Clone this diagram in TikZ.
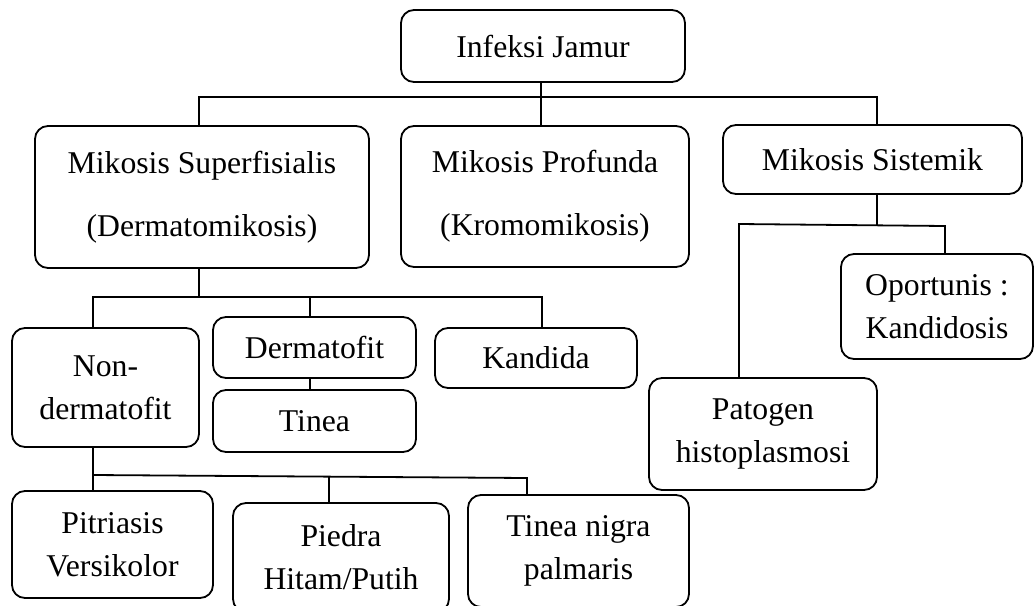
\documentclass[tikz,border=0pt]{standalone}
\usepackage{fontspec}
\setmainfont{Liberation Serif}
\begin{document}
\begin{tikzpicture}[x=1pt,y=-1pt,
  box/.style={draw, line width=1.8pt, rounded corners=13pt, align=center, inner sep=0pt,
    font=\fontsize{31.7}{43}\selectfont},
  wide/.style={font=\fontsize{31.7}{63}\selectfont},
  conn/.style={line width=1.8pt}]
\clip (0,0) rectangle (1035,605);
% boxes
\node[box, minimum width=284pt, minimum height=72pt] (inf) at (543,46) {Infeksi Jamur};
\node[box, wide, minimum width=334pt, minimum height=142pt] (sup) at (202,197) {Mikosis Superfisialis\\(Dermatomikosis)};
\node[box, wide, minimum width=288pt, minimum height=141pt] (pro) at (545,196.5) {Mikosis Profunda\\(Kromomikosis)};
\node[box, minimum width=299pt, minimum height=69pt] (sis) at (872.5,159.5) {Mikosis Sistemik};
\node[box, minimum width=187pt, minimum height=119pt] (non) at (105.5,387.5) {Non-\\dermatofit};
\node[box, minimum width=203pt, minimum height=61pt] (der) at (314.5,347.5) {Dermatofit};
\node[box, minimum width=203pt, minimum height=62pt] (tin) at (314.5,421) {Tinea};
\node[box, minimum width=202pt, minimum height=60pt] (kan) at (536,358) {Kandida};
\node[box, minimum width=201pt, minimum height=107pt] (pit) at (112.5,544.5) {Pitriasis\\Versikolor};
\node[box, minimum width=216pt, minimum height=109pt] (pie) at (341,557.5) {Piedra\\Hitam/Putih};
\node[box, minimum width=221pt, minimum height=112pt] (tnp) at (578.5,551) {Tinea nigra\\palmaris};
\node[box, minimum width=228pt, minimum height=112pt] (pat) at (763,434) {Patogen\\histoplasmosi};
\node[box, minimum width=192pt, minimum height=105pt] (opo) at (937,306.5) {Oportunis :\\Kandidosis};
% level 1
\coordinate (j1) at (541,97);
\coordinate (ja) at (199,97);
\coordinate (jb) at (877,97);
\draw[conn] (inf.south -| j1) -- (j1);
\draw[conn] (ja |- sup.north) -- (ja) -- (jb) -- (jb |- sis.north);
\draw[conn] (j1) -- (j1 |- pro.north);
% superfisialis children
\coordinate (s0) at (199,297);
\coordinate (s1) at (93,297);
\coordinate (s2) at (310,297);
\coordinate (s3) at (542,297);
\draw[conn] (s0 |- sup.south) -- (s0);
\draw[conn] (s1 |- non.north) -- (s1) -- (s3) -- (s3 |- kan.north);
\draw[conn] (s2) -- (s2 |- der.north);
\draw[conn] (s2 |- der.south) -- (s2 |- tin.north);
% non-dermatofit children
\coordinate (n0) at (93,475);
\coordinate (n2) at (329,476.5);
\coordinate (n3) at (527,478);
\draw[conn] (n0 |- non.south) -- (n0) -- (n3) -- (n3 |- tnp.north);
\draw[conn] (n0) -- (n0 |- pit.north);
\draw[conn] (n2) -- (n2 |- pie.north);
% sistemik children
\coordinate (m0) at (877,225);
\coordinate (m1) at (739,224);
\coordinate (m2) at (945,226);
\draw[conn] (m0 |- sis.south) -- (m0);
\draw[conn] (m1 |- pat.north) -- (m1) -- (m2) -- (m2 |- opo.north);
\end{tikzpicture}
\end{document}
